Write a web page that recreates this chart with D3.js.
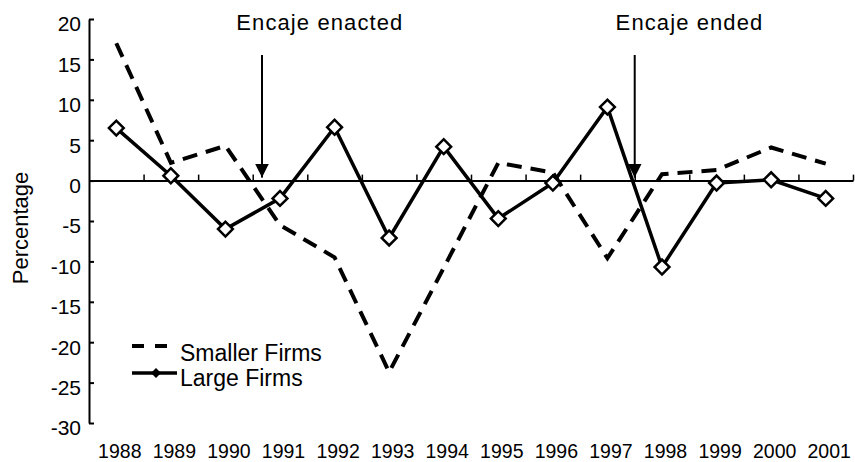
<!DOCTYPE html>
<html lang="en">
<head>
  <meta charset="UTF-8" />
  <title>Encaje chart</title>
  <style>
  body { margin: 0; background: #fff; }
  text { font-family: "Liberation Sans", Arial, Helvetica, sans-serif; fill: #000; }
  </style>
</head>
<body>
  <script src="https://cdn.jsdelivr.net/npm/d3@7/dist/d3.min.js"></script>
  <script>
  // data
  var years = [1988, 1989, 1990, 1991, 1992, 1993, 1994, 1995, 1996, 1997, 1998, 1999, 2000, 2001];
  var smallerFirms = [17, 2.2, 4.3, -5.5, -9.5, -23.7, -10.8, 2.2, 1.0, -9.6, 0.8, 1.3, 4.1, 2.1];
  var largeFirms = [6.5, 0.6, -6.0, -2.2, 6.6, -7.1, 4.2, -4.7, -0.3, 9.1, -10.7, -0.3, 0.1, -2.2];
  var yTicks = [20, 15, 10, 5, 0, -5, -10, -15, -20, -25, -30];
  var notes = [
    { label: "Encaje enacted", at: 1990.67, textX: 1990.2 },
    { label: "Encaje ended", at: 1997.5, textX: 1997.15 }
  ];

  var w = 855, h = 462;
  var margin = {top: 19, left: 89, right: 2, bottom: 39};

  var svg = d3.select("body").append("svg")
    .attr("width", w)
    .attr("height", h);

  var x = d3.scaleLinear()
    .domain([years[0] - 0.5, years[years.length - 1] + 0.5])
    .range([margin.left, 853]);

  var y = d3.scaleLinear()
    .domain([-30, 20])
    .range([423, margin.top]);

  // y axis, ticks pointing inward, plain hyphen for negatives
  var yAxis = svg.append("g")
    .attr("transform", "translate(" + margin.left + ",0)")
    .call(d3.axisLeft(y).tickValues(yTicks).tickSize(-5).tickSizeOuter(0).tickPadding(8)
      .tickFormat(function(d) { return String(d); }));
  yAxis.select(".domain").attr("stroke-width", 2);
  yAxis.selectAll(".tick line").attr("stroke-width", 2);
  yAxis.selectAll("text").attr("font-size", 21).attr("dy", "0.57em")
    .style("font-family", "'Liberation Sans', Arial, sans-serif");

  // zero line with small upward ticks between years
  var bounds = years.map(function(d) { return d + 0.5; });
  var zeroAxis = svg.append("g")
    .attr("transform", "translate(0," + y(0) + ")")
    .call(d3.axisTop(x).tickValues(bounds).tickSize(6).tickSizeOuter(0).tickFormat(""));
  zeroAxis.select(".domain").attr("stroke-width", 2);
  zeroAxis.selectAll(".tick line").attr("stroke-width", 1.5);

  // year labels along the bottom
  var xLabels = svg.append("g")
    .attr("transform", "translate(3,441)")
    .call(d3.axisBottom(x).tickValues(years).tickSize(0).tickFormat(d3.format("d")));
  xLabels.select(".domain").remove();
  xLabels.selectAll("text").attr("font-size", 19.5)
    .style("font-family", "'Liberation Sans', Arial, sans-serif");

  // y label
  svg.append("text")
    .attr("transform", "translate(28,228) rotate(-90)")
    .attr("text-anchor", "middle")
    .attr("font-size", 22)
    .text("Percentage");

  var line = d3.line()
    .x(function(d, i) { return x(years[i]); })
    .y(function(d) { return y(d); });

  svg.append("path")
    .datum(smallerFirms)
    .attr("fill", "none")
    .attr("stroke", "#000")
    .attr("stroke-width", 4)
    .attr("stroke-dasharray", "15,9")
    .attr("d", line);

  svg.append("path")
    .datum(largeFirms)
    .attr("fill", "none")
    .attr("stroke", "#000")
    .attr("stroke-width", 3.5)
    .attr("d", line);

  var diamond = d3.symbol().type(d3.symbolSquare).size(110);
  svg.selectAll(".pt")
    .data(largeFirms)
    .enter()
    .append("path")
    .attr("class", "pt")
    .attr("d", diamond)
    .attr("transform", function(d, i) { return "translate(" + x(years[i]) + "," + y(d) + ") rotate(45)"; })
    .attr("fill", "#fff")
    .attr("stroke", "#000")
    .attr("stroke-width", 2.5);

  // annotations
  svg.append("defs").append("marker")
    .attr("id", "head")
    .attr("viewBox", "0 0 10 10")
    .attr("refX", 10).attr("refY", 5)
    .attr("markerWidth", 7).attr("markerHeight", 7)
    .attr("markerUnits", "strokeWidth")
    .attr("orient", "auto")
    .append("path")
    .attr("d", "M0,0L10,5L0,10Z")
    .attr("fill", "#000");

  notes.forEach(function(n) {
    svg.append("line")
      .attr("x1", x(n.at)).attr("x2", x(n.at))
      .attr("y1", 55).attr("y2", y(0) - 3)
      .attr("stroke", "#000")
      .attr("stroke-width", 2)
      .attr("marker-end", "url(#head)");
    svg.append("text")
      .attr("x", x(n.textX))
      .attr("y", 30)
      .attr("font-size", 22)
      .attr("letter-spacing", 1.1)
      .text(n.label);
  });

  // legend
  var legend = svg.append("g").attr("transform", "translate(132,0)");
  legend.append("line")
    .attr("x1", 0).attr("x2", 45).attr("y1", 346).attr("y2", 346)
    .attr("stroke", "#000").attr("stroke-width", 4).attr("stroke-dasharray", "12,11");
  legend.append("text").attr("x", 48).attr("y", 361).attr("font-size", 23).text("Smaller Firms");
  legend.append("line")
    .attr("x1", 0).attr("x2", 45).attr("y1", 373).attr("y2", 373)
    .attr("stroke", "#000").attr("stroke-width", 3.5);
  legend.append("path")
    .attr("d", d3.symbol().type(d3.symbolSquare).size(50))
    .attr("transform", "translate(24,373) rotate(45)")
    .attr("fill", "#000");
  legend.append("text").attr("x", 48).attr("y", 386).attr("font-size", 23).text("Large Firms");
  </script>
</body>
</html>
